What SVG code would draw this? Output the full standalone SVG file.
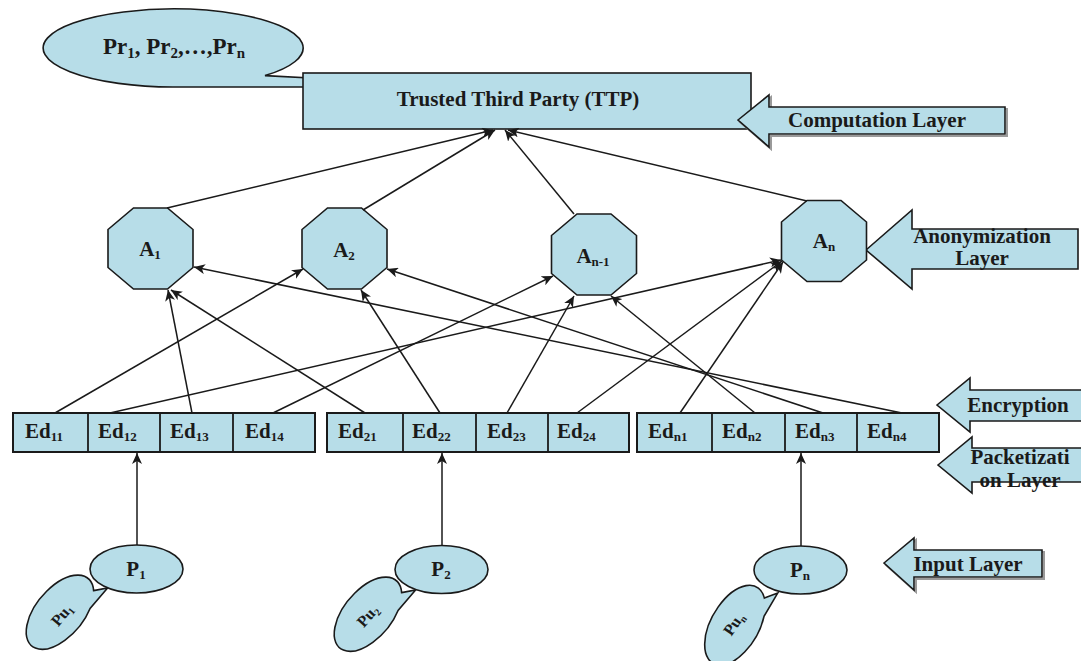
<svg xmlns="http://www.w3.org/2000/svg" width="1081" height="661" viewBox="0 0 1081 661">
<style>
.n{fill:#b7dde8;stroke:#1a1a1a;stroke-width:1.6}
.t{font-family:"Liberation Serif","Times New Roman",serif;font-weight:bold;font-size:21px;fill:#1a1a1a}
.m{text-anchor:middle}
.s{font-size:13px}
.c{stroke:#1a1a1a;stroke-width:1.5;fill:none;marker-end:url(#ah)}
.dv{stroke:#1a1a1a;stroke-width:1.8}
.sh{fill:none;stroke:#9a9a9a;stroke-width:2}
</style>
<defs>
<marker id="ah" markerUnits="userSpaceOnUse" markerWidth="12" markerHeight="10" refX="11" refY="5" orient="auto"><path d="M0,0 L11,5 L0,10 L3,5 Z" fill="#1a1a1a"/></marker>
<polygon id="oct" points="-17,-40.5 17,-40.5 42.5,-19 42.5,19 17,40.5 -17,40.5 -42.5,19 -42.5,-19"/>
<path id="pu" d="M12,-38 L21,-49 L20.8,-22 A24,44 0 1 1 12,-38 Z"/>
</defs>

<g id="pr">
<path class="n" d="M265,75.6 L310,78 L310,87 L173,87 A130,39 0 1 1 265,75.6 Z"/>
<text class="t m" x="174" y="54" style="font-size:23px">Pr<tspan class="s" style="font-size:15px" dy="4">1</tspan><tspan dy="-4">, Pr</tspan><tspan class="s" style="font-size:15px" dy="4">2</tspan><tspan dy="-4">,…,Pr</tspan><tspan class="s" style="font-size:15px" dy="4">n</tspan></text>
</g>

<g id="ttp">
<rect class="n" x="303" y="73" width="448" height="56"/>
<text class="t m" x="518" y="106">Trusted Third Party (TTP)</text>
</g>

<g id="layer-computation">
<path class="sh" d="M740,122 L771,97 L771,109 L1007,109 L1007,136 L771,136 L771,149 Z"/>
<path class="n" d="M738,120 L769,95 L769,107 L1005,107 L1005,134 L769,134 L769,147 Z"/>
<text class="t m" x="877" y="127">Computation Layer</text>
</g>

<g id="layer-anonymization">
<path class="n" d="M866,250 L912,210 L912,229 L1078,229 L1078,269 L912,269 L912,289 Z"/>
<text class="t m" x="982" y="243">Anonymization</text>
<text class="t m" x="982" y="265">Layer</text>
</g>

<g id="layer-encryption">
<path class="n" d="M937,405 L970,378 L970,390 L1083,390 L1083,421 L970,421 L970,432 Z"/>
<text class="t m" x="1018" y="412">Encryption</text>
</g>

<g id="layer-packetization">
<path class="n" d="M938,465 L972,437 L972,448 L1083,448 L1083,482 L972,482 L972,493 Z"/>
<text class="t m" x="1020" y="464">Packetizati</text>
<text class="t m" x="1020" y="487">on Layer</text>
</g>

<g id="layer-input">
<path class="sh" d="M886,565 L916,540 L916,552 L1044,552 L1044,579 L916,579 L916,592 Z"/>
<path class="n" d="M884,563 L914,538 L914,550 L1042,550 L1042,577 L914,577 L914,590 Z"/>
<text class="t m" x="968" y="571">Input Layer</text>
</g>

<g id="a1"><use href="#oct" class="n" transform="translate(150.5,248.5)"/><text class="t m" x="150" y="256">A<tspan class="s" dy="3">1</tspan></text></g>
<g id="a2"><use href="#oct" class="n" transform="translate(344.5,248.5)"/><text class="t m" x="344" y="257">A<tspan class="s" dy="3">2</tspan></text></g>
<g id="an1"><use href="#oct" class="n" transform="translate(594,254.5)"/><text class="t m" x="593" y="263">A<tspan class="s" dy="3">n-1</tspan></text></g>
<g id="an"><use href="#oct" class="n" transform="translate(824,241)"/><text class="t m" x="824" y="248">A<tspan class="s" dy="3">n</tspan></text></g>

<g id="ed-group-1">
<rect class="n" x="13" y="413" width="302" height="39" style="stroke-width:2"/>
<line class="dv" x1="88" y1="413" x2="88" y2="452"/>
<line class="dv" x1="160" y1="413" x2="160" y2="452"/>
<line class="dv" x1="233" y1="413" x2="233" y2="452"/>
<text class="t" x="25" y="438">Ed<tspan class="s" dy="3">11</tspan></text>
<text class="t" x="98" y="438">Ed<tspan class="s" dy="3">12</tspan></text>
<text class="t" x="170" y="438">Ed<tspan class="s" dy="3">13</tspan></text>
<text class="t" x="245" y="438">Ed<tspan class="s" dy="3">14</tspan></text>
</g>
<g id="ed-group-2">
<rect class="n" x="327" y="413" width="302" height="39" style="stroke-width:2"/>
<line class="dv" x1="403" y1="413" x2="403" y2="452"/>
<line class="dv" x1="476" y1="413" x2="476" y2="452"/>
<line class="dv" x1="548" y1="413" x2="548" y2="452"/>
<text class="t" x="338" y="438">Ed<tspan class="s" dy="3">21</tspan></text>
<text class="t" x="412" y="438">Ed<tspan class="s" dy="3">22</tspan></text>
<text class="t" x="487" y="438">Ed<tspan class="s" dy="3">23</tspan></text>
<text class="t" x="557" y="438">Ed<tspan class="s" dy="3">24</tspan></text>
</g>
<g id="ed-group-3">
<rect class="n" x="637" y="413" width="302" height="39" style="stroke-width:2"/>
<line class="dv" x1="712" y1="413" x2="712" y2="452"/>
<line class="dv" x1="785" y1="413" x2="785" y2="452"/>
<line class="dv" x1="857" y1="413" x2="857" y2="452"/>
<text class="t" x="648" y="438">Ed<tspan class="s" dy="3">n1</tspan></text>
<text class="t" x="722" y="438">Ed<tspan class="s" dy="3">n2</tspan></text>
<text class="t" x="795" y="438">Ed<tspan class="s" dy="3">n3</tspan></text>
<text class="t" x="867" y="438">Ed<tspan class="s" dy="3">n4</tspan></text>
</g>

<g id="pu1"><use href="#pu" class="n" transform="translate(60,612) rotate(40)"/><text class="t m" style="font-size:16px" transform="translate(62,615) rotate(-50)" y="5">Pu<tspan class="s" style="font-size:10px" dy="3">1</tspan></text></g>
<g id="pu2"><use href="#pu" class="n" transform="translate(368,614) rotate(40)"/><text class="t m" style="font-size:16px" transform="translate(368,616) rotate(-48)" y="5">Pu<tspan class="s" style="font-size:10px" dy="3">2</tspan></text></g>
<g id="pun"><use href="#pu" class="n" transform="translate(735,625) rotate(30)"/><text class="t m" style="font-size:16px" transform="translate(734,624) rotate(-55)" y="5">Pu<tspan class="s" style="font-size:10px" dy="3">n</tspan></text></g>

<g id="p1"><ellipse class="n" cx="136.5" cy="569" rx="46.5" ry="24"/><text class="t m" x="136" y="576">P<tspan class="s" dy="3">1</tspan></text></g>
<g id="p2"><ellipse class="n" cx="441.5" cy="569.5" rx="46.5" ry="24"/><text class="t m" x="441" y="576">P<tspan class="s" dy="3">2</tspan></text></g>
<g id="pn"><ellipse class="n" cx="800.5" cy="570" rx="46.5" ry="24"/><text class="t m" x="800" y="577">P<tspan class="s" dy="3">n</tspan></text></g>

<g id="connectors">
<line class="c" x1="167" y1="208" x2="493" y2="130"/>
<line class="c" x1="363" y1="210" x2="495" y2="130"/>
<line class="c" x1="574" y1="214" x2="505" y2="130"/>
<line class="c" x1="807" y1="201" x2="508" y2="130"/>
<line class="c" x1="55" y1="413" x2="303" y2="269"/>
<line class="c" x1="110" y1="413" x2="781" y2="260"/>
<line class="c" x1="192" y1="413" x2="168" y2="290"/>
<line class="c" x1="273" y1="413" x2="553" y2="276"/>
<line class="c" x1="365" y1="413" x2="171" y2="290"/>
<line class="c" x1="440" y1="413" x2="361" y2="290"/>
<line class="c" x1="507" y1="413" x2="574" y2="296"/>
<line class="c" x1="577" y1="413" x2="782" y2="261"/>
<line class="c" x1="680" y1="413" x2="783" y2="262"/>
<line class="c" x1="755" y1="413" x2="611" y2="296"/>
<line class="c" x1="823" y1="413" x2="387" y2="269"/>
<line class="c" x1="902" y1="413" x2="194" y2="267"/>
<line class="c" x1="137" y1="545" x2="137" y2="453"/>
<line class="c" x1="442" y1="545" x2="442" y2="453"/>
<line class="c" x1="801" y1="546" x2="801" y2="453"/>
</g>
</svg>
